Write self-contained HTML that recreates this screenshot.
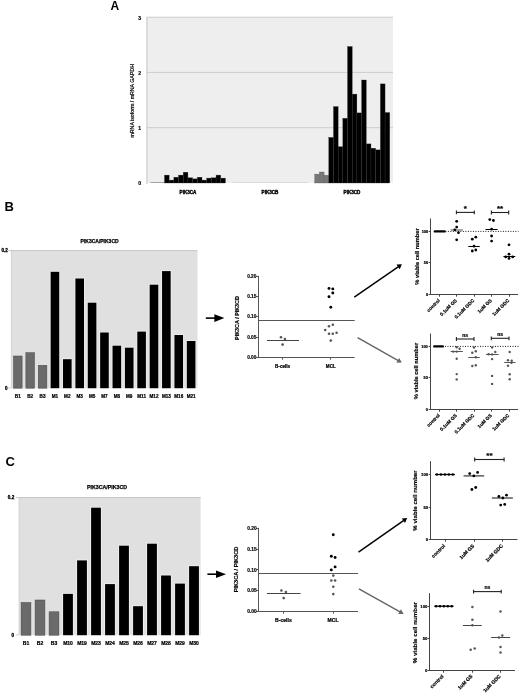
<!DOCTYPE html>
<html><head><meta charset="utf-8"><style>
html,body{margin:0;padding:0;background:#fff;width:520px;height:694px;overflow:hidden;}
svg{display:block;will-change:transform;font-family:"Liberation Sans",sans-serif;}
</style></head><body>
<svg width="520" height="694" viewBox="0 0 520 694" font-family="Liberation Sans, sans-serif">
<rect x="0" y="0" width="520" height="694" fill="#fff"/>
<text x="110.60" y="9.60" font-size="12" font-weight="bold" text-anchor="start" fill="#000" >A</text>
<rect x="147.00" y="17.00" width="246.00" height="166.00" fill="#eeeeee"/>
<line x1="147.00" y1="17.20" x2="393.00" y2="17.20" stroke="#c4c4c4" stroke-width="0.8" />
<line x1="147.00" y1="72.40" x2="393.00" y2="72.40" stroke="#c4c4c4" stroke-width="0.8" />
<line x1="147.00" y1="127.70" x2="393.00" y2="127.70" stroke="#c4c4c4" stroke-width="0.8" />
<line x1="146.90" y1="17.00" x2="146.90" y2="184.00" stroke="#c4c4c4" stroke-width="1" />
<text x="141.00" y="19.60" font-size="5.0" font-weight="bold" text-anchor="end" fill="#000" stroke="#000" stroke-width="0.18" >3</text>
<text x="141.00" y="74.80" font-size="5.0" font-weight="bold" text-anchor="end" fill="#000" stroke="#000" stroke-width="0.18" >2</text>
<text x="141.00" y="130.10" font-size="5.0" font-weight="bold" text-anchor="end" fill="#000" stroke="#000" stroke-width="0.18" >1</text>
<text x="141.00" y="185.40" font-size="5.0" font-weight="bold" text-anchor="end" fill="#000" stroke="#000" stroke-width="0.18" >0</text>
<text x="134.40" y="100.80" font-size="5.25" font-weight="normal" text-anchor="middle" fill="#000" stroke="#000" stroke-width="0.2" transform="rotate(-90 134.40 100.80)" >mRNA isoform / mRNA GAPDH</text>
<rect x="150.40" y="182.10" width="14.07" height="0.90" fill="#999"/>
<rect x="164.47" y="175.10" width="4.69" height="7.90" fill="#000000" stroke="#333" stroke-width="0.3"/>
<rect x="169.16" y="180.10" width="4.69" height="2.90" fill="#000000" stroke="#333" stroke-width="0.3"/>
<rect x="173.85" y="177.20" width="4.69" height="5.80" fill="#000000" stroke="#333" stroke-width="0.3"/>
<rect x="178.54" y="175.10" width="4.69" height="7.90" fill="#000000" stroke="#333" stroke-width="0.3"/>
<rect x="183.23" y="172.20" width="4.69" height="10.80" fill="#000000" stroke="#333" stroke-width="0.3"/>
<rect x="187.92" y="177.80" width="4.69" height="5.20" fill="#000000" stroke="#333" stroke-width="0.3"/>
<rect x="192.61" y="178.90" width="4.69" height="4.10" fill="#000000" stroke="#333" stroke-width="0.3"/>
<rect x="197.30" y="177.20" width="4.69" height="5.80" fill="#000000" stroke="#333" stroke-width="0.3"/>
<rect x="201.99" y="180.10" width="4.69" height="2.90" fill="#000000" stroke="#333" stroke-width="0.3"/>
<rect x="206.68" y="178.10" width="4.69" height="4.90" fill="#000000" stroke="#333" stroke-width="0.3"/>
<rect x="211.37" y="177.80" width="4.69" height="5.20" fill="#000000" stroke="#333" stroke-width="0.3"/>
<rect x="216.06" y="175.10" width="4.69" height="7.90" fill="#000000" stroke="#333" stroke-width="0.3"/>
<rect x="220.75" y="178.10" width="4.69" height="4.90" fill="#000000" stroke="#333" stroke-width="0.3"/>
<rect x="232.40" y="182.20" width="75.04" height="0.80" fill="#d4d4d4"/>
<rect x="314.70" y="174.10" width="4.69" height="8.90" fill="#777777" stroke="#555" stroke-width="0.3"/>
<rect x="319.39" y="172.00" width="4.69" height="11.00" fill="#777777" stroke="#555" stroke-width="0.3"/>
<rect x="324.08" y="175.20" width="4.69" height="7.80" fill="#777777" stroke="#555" stroke-width="0.3"/>
<rect x="328.77" y="137.40" width="4.69" height="45.60" fill="#000000" stroke="#333" stroke-width="0.3"/>
<rect x="333.46" y="106.60" width="4.69" height="76.40" fill="#000000" stroke="#333" stroke-width="0.3"/>
<rect x="338.15" y="146.70" width="4.69" height="36.30" fill="#000000" stroke="#333" stroke-width="0.3"/>
<rect x="342.84" y="118.30" width="4.69" height="64.70" fill="#000000" stroke="#333" stroke-width="0.3"/>
<rect x="347.53" y="46.50" width="4.69" height="136.50" fill="#000000" stroke="#333" stroke-width="0.3"/>
<rect x="352.22" y="94.10" width="4.69" height="88.90" fill="#000000" stroke="#333" stroke-width="0.3"/>
<rect x="356.91" y="112.90" width="4.69" height="70.10" fill="#000000" stroke="#333" stroke-width="0.3"/>
<rect x="361.60" y="80.00" width="4.69" height="103.00" fill="#000000" stroke="#333" stroke-width="0.3"/>
<rect x="366.29" y="143.90" width="4.69" height="39.10" fill="#000000" stroke="#333" stroke-width="0.3"/>
<rect x="370.98" y="148.20" width="4.69" height="34.80" fill="#000000" stroke="#333" stroke-width="0.3"/>
<rect x="375.67" y="149.90" width="4.69" height="33.10" fill="#000000" stroke="#333" stroke-width="0.3"/>
<rect x="380.36" y="83.90" width="4.69" height="99.10" fill="#000000" stroke="#333" stroke-width="0.3"/>
<rect x="385.05" y="112.50" width="4.69" height="70.50" fill="#000000" stroke="#333" stroke-width="0.3"/>
<text x="188.00" y="193.80" font-size="4.6" font-weight="bold" text-anchor="middle" fill="#000" stroke="#000" stroke-width="0.35" >PIK3CA</text>
<text x="270.00" y="193.80" font-size="4.6" font-weight="bold" text-anchor="middle" fill="#000" stroke="#000" stroke-width="0.35" >PIK3CB</text>
<text x="352.00" y="193.80" font-size="4.6" font-weight="bold" text-anchor="middle" fill="#000" stroke="#000" stroke-width="0.35" >PIK3CD</text>
<text x="4.60" y="211.40" font-size="13" font-weight="bold" text-anchor="start" fill="#000" >B</text>
<rect x="11.00" y="250.30" width="186.50" height="137.90" fill="#e0e0e0"/>
<line x1="11.00" y1="250.60" x2="197.50" y2="250.60" stroke="#b8b8b8" stroke-width="0.7" />
<line x1="11.30" y1="250.30" x2="11.30" y2="388.20" stroke="#c8c8c8" stroke-width="0.6" />
<rect x="49.64" y="270.80" width="10.60" height="117.40" fill="#ebebeb"/>
<rect x="62.02" y="358.20" width="10.60" height="30.00" fill="#ebebeb"/>
<rect x="74.40" y="277.50" width="10.60" height="110.70" fill="#ebebeb"/>
<rect x="86.78" y="301.70" width="10.60" height="86.50" fill="#ebebeb"/>
<rect x="99.16" y="331.50" width="10.60" height="56.70" fill="#ebebeb"/>
<rect x="111.54" y="344.70" width="10.60" height="43.50" fill="#ebebeb"/>
<rect x="123.92" y="346.70" width="10.60" height="41.50" fill="#ebebeb"/>
<rect x="136.30" y="330.60" width="10.60" height="57.60" fill="#ebebeb"/>
<rect x="148.68" y="283.70" width="10.60" height="104.50" fill="#ebebeb"/>
<rect x="161.06" y="270.10" width="10.60" height="118.10" fill="#ebebeb"/>
<rect x="173.44" y="334.00" width="10.60" height="54.20" fill="#ebebeb"/>
<rect x="185.82" y="340.00" width="10.60" height="48.20" fill="#ebebeb"/>
<rect x="13.50" y="356.00" width="8.60" height="32.20" fill="#6a6a6a" stroke="#444" stroke-width="0.5"/>
<text x="17.80" y="397.80" font-size="4.6" font-weight="bold" text-anchor="middle" fill="#000" stroke="#000" stroke-width="0.22" >B1</text>
<rect x="25.88" y="352.70" width="8.60" height="35.50" fill="#6a6a6a" stroke="#444" stroke-width="0.5"/>
<text x="30.18" y="397.80" font-size="4.6" font-weight="bold" text-anchor="middle" fill="#000" stroke="#000" stroke-width="0.22" >B2</text>
<rect x="38.26" y="365.30" width="8.60" height="22.90" fill="#6a6a6a" stroke="#444" stroke-width="0.5"/>
<text x="42.56" y="397.80" font-size="4.6" font-weight="bold" text-anchor="middle" fill="#000" stroke="#000" stroke-width="0.22" >B3</text>
<rect x="50.64" y="271.80" width="8.60" height="116.40" fill="#000"/>
<text x="54.94" y="397.80" font-size="4.6" font-weight="bold" text-anchor="middle" fill="#000" stroke="#000" stroke-width="0.22" >M1</text>
<rect x="63.02" y="359.20" width="8.60" height="29.00" fill="#000"/>
<text x="67.32" y="397.80" font-size="4.6" font-weight="bold" text-anchor="middle" fill="#000" stroke="#000" stroke-width="0.22" >M2</text>
<rect x="75.40" y="278.50" width="8.60" height="109.70" fill="#000"/>
<text x="79.70" y="397.80" font-size="4.6" font-weight="bold" text-anchor="middle" fill="#000" stroke="#000" stroke-width="0.22" >M3</text>
<rect x="87.78" y="302.70" width="8.60" height="85.50" fill="#000"/>
<text x="92.08" y="397.80" font-size="4.6" font-weight="bold" text-anchor="middle" fill="#000" stroke="#000" stroke-width="0.22" >M5</text>
<rect x="100.16" y="332.50" width="8.60" height="55.70" fill="#000"/>
<text x="104.46" y="397.80" font-size="4.6" font-weight="bold" text-anchor="middle" fill="#000" stroke="#000" stroke-width="0.22" >M7</text>
<rect x="112.54" y="345.70" width="8.60" height="42.50" fill="#000"/>
<text x="116.84" y="397.80" font-size="4.6" font-weight="bold" text-anchor="middle" fill="#000" stroke="#000" stroke-width="0.22" >M8</text>
<rect x="124.92" y="347.70" width="8.60" height="40.50" fill="#000"/>
<text x="129.22" y="397.80" font-size="4.6" font-weight="bold" text-anchor="middle" fill="#000" stroke="#000" stroke-width="0.22" >M9</text>
<rect x="137.30" y="331.60" width="8.60" height="56.60" fill="#000"/>
<text x="141.60" y="397.80" font-size="4.6" font-weight="bold" text-anchor="middle" fill="#000" stroke="#000" stroke-width="0.22" >M11</text>
<rect x="149.68" y="284.70" width="8.60" height="103.50" fill="#000"/>
<text x="153.98" y="397.80" font-size="4.6" font-weight="bold" text-anchor="middle" fill="#000" stroke="#000" stroke-width="0.22" >M12</text>
<rect x="162.06" y="271.10" width="8.60" height="117.10" fill="#000"/>
<text x="166.36" y="397.80" font-size="4.6" font-weight="bold" text-anchor="middle" fill="#000" stroke="#000" stroke-width="0.22" >M13</text>
<rect x="174.44" y="335.00" width="8.60" height="53.20" fill="#000"/>
<text x="178.74" y="397.80" font-size="4.6" font-weight="bold" text-anchor="middle" fill="#000" stroke="#000" stroke-width="0.22" >M16</text>
<rect x="186.82" y="341.00" width="8.60" height="47.20" fill="#000"/>
<text x="191.12" y="397.80" font-size="4.6" font-weight="bold" text-anchor="middle" fill="#000" stroke="#000" stroke-width="0.22" >M21</text>
<text x="99.60" y="243.30" font-size="5.0" font-weight="bold" text-anchor="middle" fill="#000" stroke="#000" stroke-width="0.25" >PIK3CA/PIK3CD</text>
<text x="7.90" y="251.80" font-size="4.6" font-weight="bold" text-anchor="end" fill="#000" stroke="#000" stroke-width="0.3" >0.2</text>
<text x="7.40" y="389.60" font-size="4.5" font-weight="bold" text-anchor="end" fill="#000" stroke="#000" stroke-width="0.3" >0</text>
<line x1="8.00" y1="250.60" x2="11.00" y2="250.60" stroke="#c0c0c0" stroke-width="0.8" />
<line x1="8.00" y1="387.90" x2="11.00" y2="387.90" stroke="#c8c8c8" stroke-width="0.8" />
<text x="5.60" y="465.80" font-size="13" font-weight="bold" text-anchor="start" fill="#000" >C</text>
<rect x="18.80" y="497.30" width="181.80" height="137.90" fill="#e0e0e0"/>
<line x1="18.80" y1="497.60" x2="200.60" y2="497.60" stroke="#b8b8b8" stroke-width="0.7" />
<line x1="19.10" y1="497.30" x2="19.10" y2="635.20" stroke="#c8c8c8" stroke-width="0.6" />
<rect x="62.10" y="592.90" width="11.80" height="42.30" fill="#ebebeb"/>
<rect x="76.10" y="559.40" width="11.80" height="75.80" fill="#ebebeb"/>
<rect x="90.10" y="506.70" width="11.80" height="128.50" fill="#ebebeb"/>
<rect x="104.10" y="583.10" width="11.80" height="52.10" fill="#ebebeb"/>
<rect x="118.10" y="544.70" width="11.80" height="90.50" fill="#ebebeb"/>
<rect x="132.10" y="605.20" width="11.80" height="30.00" fill="#ebebeb"/>
<rect x="146.10" y="542.70" width="11.80" height="92.50" fill="#ebebeb"/>
<rect x="160.10" y="574.50" width="11.80" height="60.70" fill="#ebebeb"/>
<rect x="174.10" y="582.60" width="11.80" height="52.60" fill="#ebebeb"/>
<rect x="188.10" y="565.20" width="11.80" height="70.00" fill="#ebebeb"/>
<rect x="21.10" y="602.50" width="9.80" height="32.70" fill="#6a6a6a" stroke="#444" stroke-width="0.5"/>
<text x="26.00" y="644.90" font-size="5.0" font-weight="bold" text-anchor="middle" fill="#000" stroke="#000" stroke-width="0.22" >B1</text>
<rect x="35.10" y="600.00" width="9.80" height="35.20" fill="#6a6a6a" stroke="#444" stroke-width="0.5"/>
<text x="40.00" y="644.90" font-size="5.0" font-weight="bold" text-anchor="middle" fill="#000" stroke="#000" stroke-width="0.22" >B2</text>
<rect x="49.10" y="611.80" width="9.80" height="23.40" fill="#6a6a6a" stroke="#444" stroke-width="0.5"/>
<text x="54.00" y="644.90" font-size="5.0" font-weight="bold" text-anchor="middle" fill="#000" stroke="#000" stroke-width="0.22" >B3</text>
<rect x="63.10" y="593.90" width="9.80" height="41.30" fill="#000"/>
<text x="68.00" y="644.90" font-size="5.0" font-weight="bold" text-anchor="middle" fill="#000" stroke="#000" stroke-width="0.22" >M10</text>
<rect x="77.10" y="560.40" width="9.80" height="74.80" fill="#000"/>
<text x="82.00" y="644.90" font-size="5.0" font-weight="bold" text-anchor="middle" fill="#000" stroke="#000" stroke-width="0.22" >M19</text>
<rect x="91.10" y="507.70" width="9.80" height="127.50" fill="#000"/>
<text x="96.00" y="644.90" font-size="5.0" font-weight="bold" text-anchor="middle" fill="#000" stroke="#000" stroke-width="0.22" >M23</text>
<rect x="105.10" y="584.10" width="9.80" height="51.10" fill="#000"/>
<text x="110.00" y="644.90" font-size="5.0" font-weight="bold" text-anchor="middle" fill="#000" stroke="#000" stroke-width="0.22" >M24</text>
<rect x="119.10" y="545.70" width="9.80" height="89.50" fill="#000"/>
<text x="124.00" y="644.90" font-size="5.0" font-weight="bold" text-anchor="middle" fill="#000" stroke="#000" stroke-width="0.22" >M25</text>
<rect x="133.10" y="606.20" width="9.80" height="29.00" fill="#000"/>
<text x="138.00" y="644.90" font-size="5.0" font-weight="bold" text-anchor="middle" fill="#000" stroke="#000" stroke-width="0.22" >M26</text>
<rect x="147.10" y="543.70" width="9.80" height="91.50" fill="#000"/>
<text x="152.00" y="644.90" font-size="5.0" font-weight="bold" text-anchor="middle" fill="#000" stroke="#000" stroke-width="0.22" >M27</text>
<rect x="161.10" y="575.50" width="9.80" height="59.70" fill="#000"/>
<text x="166.00" y="644.90" font-size="5.0" font-weight="bold" text-anchor="middle" fill="#000" stroke="#000" stroke-width="0.22" >M28</text>
<rect x="175.10" y="583.60" width="9.80" height="51.60" fill="#000"/>
<text x="180.00" y="644.90" font-size="5.0" font-weight="bold" text-anchor="middle" fill="#000" stroke="#000" stroke-width="0.22" >M29</text>
<rect x="189.10" y="566.20" width="9.80" height="69.00" fill="#000"/>
<text x="194.00" y="644.90" font-size="5.0" font-weight="bold" text-anchor="middle" fill="#000" stroke="#000" stroke-width="0.22" >M30</text>
<text x="107.10" y="489.20" font-size="5.25" font-weight="bold" text-anchor="middle" fill="#000" stroke="#000" stroke-width="0.25" >PIK3CA/PIK3CD</text>
<text x="14.20" y="498.80" font-size="4.6" font-weight="bold" text-anchor="end" fill="#000" stroke="#000" stroke-width="0.3" >0.2</text>
<text x="13.90" y="637.00" font-size="4.5" font-weight="bold" text-anchor="end" fill="#000" stroke="#000" stroke-width="0.3" >0</text>
<line x1="15.80" y1="497.60" x2="18.80" y2="497.60" stroke="#c0c0c0" stroke-width="0.8" />
<line x1="15.80" y1="634.90" x2="18.80" y2="634.90" stroke="#c8c8c8" stroke-width="0.8" />
<line x1="205.80" y1="318.10" x2="215.40" y2="318.10" stroke="#000" stroke-width="1.6" />
<polygon points="214.40,314.30 224.40,318.10 214.40,321.90" fill="#000"/>
<line x1="258.50" y1="275.80" x2="258.50" y2="358.00" stroke="#555" stroke-width="1" />
<line x1="258.00" y1="357.50" x2="354.70" y2="357.50" stroke="#555" stroke-width="1" />
<line x1="256.20" y1="276.50" x2="258.50" y2="276.50" stroke="#555" stroke-width="1" />
<text x="256.40" y="277.87" font-size="4.75" font-weight="bold" text-anchor="end" fill="#000" stroke="#000" stroke-width="0.15" >0.20</text>
<line x1="256.20" y1="296.50" x2="258.50" y2="296.50" stroke="#555" stroke-width="1" />
<text x="256.40" y="298.12" font-size="4.75" font-weight="bold" text-anchor="end" fill="#000" stroke="#000" stroke-width="0.15" >0.15</text>
<line x1="256.20" y1="316.50" x2="258.50" y2="316.50" stroke="#555" stroke-width="1" />
<text x="256.40" y="318.37" font-size="4.75" font-weight="bold" text-anchor="end" fill="#000" stroke="#000" stroke-width="0.15" >0.10</text>
<line x1="256.20" y1="337.50" x2="258.50" y2="337.50" stroke="#555" stroke-width="1" />
<text x="256.40" y="338.62" font-size="4.75" font-weight="bold" text-anchor="end" fill="#000" stroke="#000" stroke-width="0.15" >0.05</text>
<line x1="256.20" y1="357.50" x2="258.50" y2="357.50" stroke="#555" stroke-width="1" />
<text x="256.40" y="358.87" font-size="4.75" font-weight="bold" text-anchor="end" fill="#000" stroke="#000" stroke-width="0.15" >0.00</text>
<line x1="282.50" y1="357.50" x2="282.50" y2="359.70" stroke="#555" stroke-width="1" />
<line x1="330.50" y1="357.50" x2="330.50" y2="359.70" stroke="#555" stroke-width="1" />
<line x1="258.50" y1="320.50" x2="354.70" y2="320.50" stroke="#555" stroke-width="1" />
<line x1="267.00" y1="340.50" x2="299.00" y2="340.50" stroke="#444" stroke-width="1" />
<circle cx="281.00" cy="337.30" r="1.3" fill="#555"/>
<circle cx="284.90" cy="339.00" r="1.3" fill="#555"/>
<circle cx="282.60" cy="344.60" r="1.3" fill="#555"/>
<circle cx="329.00" cy="288.40" r="1.45" fill="#000"/>
<circle cx="332.80" cy="288.90" r="1.45" fill="#000"/>
<circle cx="332.80" cy="293.00" r="1.45" fill="#000"/>
<circle cx="329.00" cy="296.80" r="1.45" fill="#000"/>
<circle cx="330.80" cy="307.30" r="1.45" fill="#000"/>
<circle cx="329.00" cy="326.20" r="1.3" fill="#555"/>
<circle cx="332.80" cy="324.70" r="1.3" fill="#555"/>
<circle cx="325.20" cy="330.00" r="1.3" fill="#555"/>
<circle cx="329.00" cy="333.80" r="1.3" fill="#555"/>
<circle cx="332.80" cy="333.80" r="1.3" fill="#555"/>
<circle cx="336.60" cy="332.70" r="1.3" fill="#555"/>
<circle cx="330.80" cy="340.60" r="1.3" fill="#555"/>
<text x="238.60" y="318.00" font-size="5.4" font-weight="bold" text-anchor="middle" fill="#000" stroke="#000" stroke-width="0.18" transform="rotate(-90 238.60 318.00)" >PIK3CA / PIK3CD</text>
<text x="282.60" y="367.50" font-size="4.6" font-weight="bold" text-anchor="middle" fill="#000" stroke="#000" stroke-width="0.22" >B-cells</text>
<text x="330.80" y="367.50" font-size="4.6" font-weight="bold" text-anchor="middle" fill="#000" stroke="#000" stroke-width="0.22" >MCL</text>
<line x1="207.40" y1="574.20" x2="217.00" y2="574.20" stroke="#000" stroke-width="1.6" />
<polygon points="216.00,570.40 226.00,574.20 216.00,578.00" fill="#000"/>
<line x1="258.50" y1="527.80" x2="258.50" y2="612.00" stroke="#555" stroke-width="1" />
<line x1="258.00" y1="611.50" x2="358.00" y2="611.50" stroke="#555" stroke-width="1" />
<line x1="256.20" y1="528.50" x2="258.50" y2="528.50" stroke="#555" stroke-width="1" />
<text x="256.70" y="529.90" font-size="4.85" font-weight="bold" text-anchor="end" fill="#000" stroke="#000" stroke-width="0.15" >0.20</text>
<line x1="256.20" y1="549.50" x2="258.50" y2="549.50" stroke="#555" stroke-width="1" />
<text x="256.70" y="550.70" font-size="4.85" font-weight="bold" text-anchor="end" fill="#000" stroke="#000" stroke-width="0.15" >0.15</text>
<line x1="256.20" y1="569.50" x2="258.50" y2="569.50" stroke="#555" stroke-width="1" />
<text x="256.70" y="571.50" font-size="4.85" font-weight="bold" text-anchor="end" fill="#000" stroke="#000" stroke-width="0.15" >0.10</text>
<line x1="256.20" y1="590.50" x2="258.50" y2="590.50" stroke="#555" stroke-width="1" />
<text x="256.70" y="592.30" font-size="4.85" font-weight="bold" text-anchor="end" fill="#000" stroke="#000" stroke-width="0.15" >0.05</text>
<line x1="256.20" y1="611.50" x2="258.50" y2="611.50" stroke="#555" stroke-width="1" />
<text x="256.70" y="613.10" font-size="4.85" font-weight="bold" text-anchor="end" fill="#000" stroke="#000" stroke-width="0.15" >0.00</text>
<line x1="283.50" y1="611.50" x2="283.50" y2="613.70" stroke="#555" stroke-width="1" />
<line x1="333.50" y1="611.50" x2="333.50" y2="613.70" stroke="#555" stroke-width="1" />
<line x1="258.50" y1="573.50" x2="358.00" y2="573.50" stroke="#555" stroke-width="1" />
<line x1="267.00" y1="593.50" x2="300.60" y2="593.50" stroke="#444" stroke-width="1" />
<circle cx="281.40" cy="590.50" r="1.3" fill="#555"/>
<circle cx="285.90" cy="592.00" r="1.3" fill="#555"/>
<circle cx="283.70" cy="598.10" r="1.3" fill="#555"/>
<circle cx="333.30" cy="534.80" r="1.45" fill="#000"/>
<circle cx="331.30" cy="556.30" r="1.45" fill="#000"/>
<circle cx="335.10" cy="557.50" r="1.45" fill="#000"/>
<circle cx="335.10" cy="566.90" r="1.45" fill="#000"/>
<circle cx="331.30" cy="569.90" r="1.45" fill="#000"/>
<circle cx="333.30" cy="575.60" r="1.3" fill="#555"/>
<circle cx="331.30" cy="580.50" r="1.3" fill="#555"/>
<circle cx="335.10" cy="580.50" r="1.3" fill="#555"/>
<circle cx="333.30" cy="586.80" r="1.3" fill="#555"/>
<circle cx="333.30" cy="594.10" r="1.3" fill="#555"/>
<text x="238.40" y="569.50" font-size="5.6" font-weight="bold" text-anchor="middle" fill="#000" stroke="#000" stroke-width="0.18" transform="rotate(-90 238.40 569.50)" >PIK3CA / PIK3CD</text>
<text x="283.40" y="622.00" font-size="5.1" font-weight="bold" text-anchor="middle" fill="#000" stroke="#000" stroke-width="0.22" >B-cells</text>
<text x="333.00" y="622.00" font-size="5.1" font-weight="bold" text-anchor="middle" fill="#000" stroke="#000" stroke-width="0.22" >MCL</text>
<line x1="354.30" y1="297.10" x2="398.52" y2="266.63" stroke="#000" stroke-width="1.45" />
<polygon points="401.90,264.30 399.70,269.22 396.52,264.60" fill="#000"/>
<line x1="357.60" y1="337.70" x2="398.23" y2="360.59" stroke="#666" stroke-width="1.45" />
<polygon points="401.80,362.60 396.42,362.78 399.17,357.90" fill="#666"/>
<line x1="358.50" y1="552.10" x2="403.84" y2="520.45" stroke="#000" stroke-width="1.45" />
<polygon points="407.20,518.10 405.03,523.03 401.83,518.44" fill="#000"/>
<line x1="358.90" y1="588.80" x2="400.03" y2="611.89" stroke="#666" stroke-width="1.45" />
<polygon points="403.60,613.90 398.22,614.09 400.96,609.21" fill="#666"/>
<line x1="430.50" y1="218.50" x2="430.50" y2="295.00" stroke="#444" stroke-width="1" />
<line x1="430.00" y1="294.50" x2="518.00" y2="294.50" stroke="#444" stroke-width="1" />
<line x1="428.70" y1="231.50" x2="430.50" y2="231.50" stroke="#444" stroke-width="1" />
<text x="428.20" y="232.80" font-size="3.9" font-weight="bold" text-anchor="end" fill="#000" stroke="#000" stroke-width="0.2" >100</text>
<line x1="428.70" y1="262.50" x2="430.50" y2="262.50" stroke="#444" stroke-width="1" />
<text x="428.20" y="264.25" font-size="3.9" font-weight="bold" text-anchor="end" fill="#000" stroke="#000" stroke-width="0.2" >50</text>
<line x1="428.70" y1="294.50" x2="430.50" y2="294.50" stroke="#444" stroke-width="1" />
<text x="428.20" y="295.70" font-size="3.9" font-weight="bold" text-anchor="end" fill="#000" stroke="#000" stroke-width="0.2" >0</text>
<line x1="439.50" y1="294.50" x2="439.50" y2="296.70" stroke="#444" stroke-width="1" />
<line x1="456.50" y1="294.50" x2="456.50" y2="296.70" stroke="#444" stroke-width="1" />
<line x1="474.50" y1="294.50" x2="474.50" y2="296.70" stroke="#444" stroke-width="1" />
<line x1="491.50" y1="294.50" x2="491.50" y2="296.70" stroke="#444" stroke-width="1" />
<line x1="509.50" y1="294.50" x2="509.50" y2="296.70" stroke="#444" stroke-width="1" />
<text x="440.20" y="300.90" font-size="4.8" font-weight="bold" text-anchor="end" fill="#000" stroke="#000" stroke-width="0.18" transform="rotate(-45 440.20 300.90)" >control</text>
<text x="457.30" y="300.90" font-size="4.8" font-weight="bold" text-anchor="end" fill="#000" stroke="#000" stroke-width="0.18" transform="rotate(-45 457.30 300.90)" >0.1uM GS</text>
<text x="474.60" y="300.90" font-size="4.8" font-weight="bold" text-anchor="end" fill="#000" stroke="#000" stroke-width="0.18" transform="rotate(-45 474.60 300.90)" >0.1uM GDC</text>
<text x="492.20" y="300.90" font-size="4.8" font-weight="bold" text-anchor="end" fill="#000" stroke="#000" stroke-width="0.18" transform="rotate(-45 492.20 300.90)" >1uM GS</text>
<text x="509.60" y="300.90" font-size="4.8" font-weight="bold" text-anchor="end" fill="#000" stroke="#000" stroke-width="0.18" transform="rotate(-45 509.60 300.90)" >1uM GDC</text>
<line x1="445.40" y1="231.40" x2="518.50" y2="231.40" stroke="#000" stroke-width="0.9" stroke-dasharray="1 1.5"/>
<line x1="434.90" y1="231.40" x2="444.60" y2="231.40" stroke="#000" stroke-width="2.4" stroke-linecap="round"/>
<line x1="450.60" y1="230.00" x2="462.80" y2="230.00" stroke="#888" stroke-width="1.5" />
<circle cx="456.70" cy="221.30" r="1.4" fill="#000"/>
<circle cx="456.70" cy="227.10" r="1.4" fill="#000"/>
<circle cx="454.80" cy="229.80" r="1.4" fill="#000"/>
<circle cx="458.50" cy="232.70" r="1.4" fill="#000"/>
<circle cx="456.70" cy="239.80" r="1.4" fill="#000"/>
<line x1="468.30" y1="246.50" x2="479.80" y2="246.50" stroke="#000" stroke-width="1" />
<circle cx="472.30" cy="239.20" r="1.4" fill="#000"/>
<circle cx="475.80" cy="237.20" r="1.4" fill="#000"/>
<circle cx="474.00" cy="246.20" r="1.4" fill="#000"/>
<circle cx="472.30" cy="251.00" r="1.4" fill="#000"/>
<circle cx="475.80" cy="250.00" r="1.4" fill="#000"/>
<line x1="485.50" y1="229.50" x2="497.60" y2="229.50" stroke="#000" stroke-width="1" />
<circle cx="489.80" cy="219.60" r="1.4" fill="#000"/>
<circle cx="493.40" cy="220.50" r="1.4" fill="#000"/>
<circle cx="491.60" cy="229.20" r="1.4" fill="#000"/>
<circle cx="491.60" cy="236.00" r="1.4" fill="#000"/>
<circle cx="491.60" cy="241.10" r="1.4" fill="#000"/>
<line x1="503.40" y1="256.50" x2="515.30" y2="256.50" stroke="#000" stroke-width="1" />
<circle cx="509.00" cy="244.80" r="1.4" fill="#000"/>
<circle cx="509.00" cy="254.20" r="1.4" fill="#000"/>
<circle cx="505.70" cy="256.90" r="1.4" fill="#000"/>
<circle cx="512.70" cy="256.90" r="1.4" fill="#000"/>
<circle cx="509.00" cy="258.40" r="1.4" fill="#000"/>
<line x1="456.40" y1="212.40" x2="474.30" y2="212.40" stroke="#222" stroke-width="1.1" />
<line x1="456.40" y1="210.50" x2="456.40" y2="214.30" stroke="#222" stroke-width="1.1" />
<line x1="474.30" y1="210.50" x2="474.30" y2="214.30" stroke="#222" stroke-width="1.1" />
<text x="465.35" y="210.60" font-size="8.0" font-weight="bold" text-anchor="middle" fill="#000" stroke="#000" stroke-width="0.2" >*</text>
<line x1="491.40" y1="212.50" x2="508.70" y2="212.50" stroke="#222" stroke-width="1.1" />
<line x1="491.40" y1="210.60" x2="491.40" y2="214.40" stroke="#222" stroke-width="1.1" />
<line x1="508.70" y1="210.60" x2="508.70" y2="214.40" stroke="#222" stroke-width="1.1" />
<text x="500.05" y="210.70" font-size="8.0" font-weight="bold" text-anchor="middle" fill="#000" stroke="#000" stroke-width="0.2" >**</text>
<text x="418.80" y="256.50" font-size="5.7" font-weight="bold" text-anchor="middle" fill="#000" stroke="#000" stroke-width="0.18" transform="rotate(-90 418.80 256.50)" >% viable cell number</text>
<line x1="430.50" y1="333.50" x2="430.50" y2="410.00" stroke="#444" stroke-width="1" />
<line x1="430.00" y1="409.50" x2="518.00" y2="409.50" stroke="#444" stroke-width="1" />
<line x1="428.70" y1="346.50" x2="430.50" y2="346.50" stroke="#444" stroke-width="1" />
<text x="427.80" y="347.80" font-size="3.9" font-weight="bold" text-anchor="end" fill="#000" stroke="#000" stroke-width="0.2" >100</text>
<line x1="428.70" y1="377.50" x2="430.50" y2="377.50" stroke="#444" stroke-width="1" />
<text x="427.80" y="379.20" font-size="3.9" font-weight="bold" text-anchor="end" fill="#000" stroke="#000" stroke-width="0.2" >50</text>
<line x1="428.70" y1="409.50" x2="430.50" y2="409.50" stroke="#444" stroke-width="1" />
<text x="427.80" y="410.60" font-size="3.9" font-weight="bold" text-anchor="end" fill="#000" stroke="#000" stroke-width="0.2" >0</text>
<line x1="439.50" y1="409.50" x2="439.50" y2="411.70" stroke="#444" stroke-width="1" />
<line x1="456.50" y1="409.50" x2="456.50" y2="411.70" stroke="#444" stroke-width="1" />
<line x1="474.50" y1="409.50" x2="474.50" y2="411.70" stroke="#444" stroke-width="1" />
<line x1="491.50" y1="409.50" x2="491.50" y2="411.70" stroke="#444" stroke-width="1" />
<line x1="509.50" y1="409.50" x2="509.50" y2="411.70" stroke="#444" stroke-width="1" />
<text x="440.20" y="415.80" font-size="4.8" font-weight="bold" text-anchor="end" fill="#000" stroke="#000" stroke-width="0.18" transform="rotate(-45 440.20 415.80)" >control</text>
<text x="457.30" y="415.80" font-size="4.8" font-weight="bold" text-anchor="end" fill="#000" stroke="#000" stroke-width="0.18" transform="rotate(-45 457.30 415.80)" >0.1uM GS</text>
<text x="474.60" y="415.80" font-size="4.8" font-weight="bold" text-anchor="end" fill="#000" stroke="#000" stroke-width="0.18" transform="rotate(-45 474.60 415.80)" >0.1uM GDC</text>
<text x="492.20" y="415.80" font-size="4.8" font-weight="bold" text-anchor="end" fill="#000" stroke="#000" stroke-width="0.18" transform="rotate(-45 492.20 415.80)" >1uM GS</text>
<text x="509.60" y="415.80" font-size="4.8" font-weight="bold" text-anchor="end" fill="#000" stroke="#000" stroke-width="0.18" transform="rotate(-45 509.60 415.80)" >1uM GDC</text>
<line x1="445.00" y1="346.40" x2="518.50" y2="346.40" stroke="#000" stroke-width="0.9" stroke-dasharray="1 1.5"/>
<line x1="434.30" y1="346.40" x2="442.80" y2="346.40" stroke="#000" stroke-width="2.4" stroke-linecap="round"/>
<line x1="450.60" y1="351.50" x2="462.80" y2="351.50" stroke="#555" stroke-width="1" />
<circle cx="456.70" cy="347.30" r="1.2" fill="#555"/>
<circle cx="459.60" cy="348.80" r="1.2" fill="#555"/>
<circle cx="453.30" cy="351.60" r="1.2" fill="#555"/>
<circle cx="456.70" cy="351.60" r="1.2" fill="#555"/>
<circle cx="456.70" cy="358.80" r="1.2" fill="#555"/>
<circle cx="456.70" cy="374.10" r="1.2" fill="#555"/>
<circle cx="456.70" cy="379.40" r="1.2" fill="#555"/>
<line x1="468.30" y1="357.50" x2="479.80" y2="357.50" stroke="#555" stroke-width="1" />
<circle cx="474.00" cy="347.50" r="1.2" fill="#555"/>
<circle cx="475.80" cy="351.30" r="1.2" fill="#555"/>
<circle cx="472.30" cy="352.80" r="1.2" fill="#555"/>
<circle cx="475.80" cy="357.20" r="1.2" fill="#555"/>
<circle cx="472.30" cy="366.00" r="1.2" fill="#555"/>
<circle cx="475.80" cy="365.20" r="1.2" fill="#555"/>
<line x1="486.00" y1="354.50" x2="498.60" y2="354.50" stroke="#555" stroke-width="1" />
<circle cx="492.10" cy="347.40" r="1.2" fill="#555"/>
<circle cx="495.30" cy="352.00" r="1.2" fill="#555"/>
<circle cx="488.60" cy="354.20" r="1.2" fill="#555"/>
<circle cx="492.10" cy="354.40" r="1.2" fill="#555"/>
<circle cx="492.10" cy="359.10" r="1.2" fill="#555"/>
<circle cx="492.10" cy="375.90" r="1.2" fill="#555"/>
<circle cx="492.10" cy="383.90" r="1.2" fill="#555"/>
<line x1="504.20" y1="362.50" x2="515.50" y2="362.50" stroke="#555" stroke-width="1" />
<circle cx="509.70" cy="352.00" r="1.2" fill="#555"/>
<circle cx="508.00" cy="360.30" r="1.2" fill="#555"/>
<circle cx="511.70" cy="360.80" r="1.2" fill="#555"/>
<circle cx="511.40" cy="362.80" r="1.2" fill="#555"/>
<circle cx="508.00" cy="365.80" r="1.2" fill="#555"/>
<circle cx="509.70" cy="374.20" r="1.2" fill="#555"/>
<circle cx="509.70" cy="379.20" r="1.2" fill="#555"/>
<line x1="456.40" y1="339.00" x2="474.00" y2="339.00" stroke="#222" stroke-width="1.1" />
<line x1="456.40" y1="337.10" x2="456.40" y2="340.90" stroke="#222" stroke-width="1.1" />
<line x1="474.00" y1="337.10" x2="474.00" y2="340.90" stroke="#222" stroke-width="1.1" />
<text x="465.20" y="336.60" font-size="5.0" font-weight="bold" text-anchor="middle" fill="#000" stroke="#000" stroke-width="0.2" >ns</text>
<line x1="491.30" y1="338.30" x2="509.00" y2="338.30" stroke="#222" stroke-width="1.1" />
<line x1="491.30" y1="336.40" x2="491.30" y2="340.20" stroke="#222" stroke-width="1.1" />
<line x1="509.00" y1="336.40" x2="509.00" y2="340.20" stroke="#222" stroke-width="1.1" />
<text x="500.15" y="335.90" font-size="5.0" font-weight="bold" text-anchor="middle" fill="#000" stroke="#000" stroke-width="0.2" >ns</text>
<text x="418.40" y="371.00" font-size="5.7" font-weight="bold" text-anchor="middle" fill="#000" stroke="#000" stroke-width="0.18" transform="rotate(-90 418.40 371.00)" >% viable cell number</text>
<line x1="430.50" y1="461.10" x2="430.50" y2="540.00" stroke="#444" stroke-width="1" />
<line x1="430.00" y1="539.50" x2="517.40" y2="539.50" stroke="#444" stroke-width="1" />
<line x1="428.70" y1="474.50" x2="430.50" y2="474.50" stroke="#444" stroke-width="1" />
<text x="428.10" y="475.81" font-size="4.2" font-weight="bold" text-anchor="end" fill="#000" stroke="#000" stroke-width="0.2" >100</text>
<line x1="428.70" y1="507.50" x2="430.50" y2="507.50" stroke="#444" stroke-width="1" />
<text x="428.10" y="508.51" font-size="4.2" font-weight="bold" text-anchor="end" fill="#000" stroke="#000" stroke-width="0.2" >50</text>
<line x1="428.70" y1="539.50" x2="430.50" y2="539.50" stroke="#444" stroke-width="1" />
<text x="428.10" y="541.21" font-size="4.2" font-weight="bold" text-anchor="end" fill="#000" stroke="#000" stroke-width="0.2" >0</text>
<line x1="445.50" y1="539.50" x2="445.50" y2="541.70" stroke="#444" stroke-width="1" />
<line x1="474.50" y1="539.50" x2="474.50" y2="541.70" stroke="#444" stroke-width="1" />
<line x1="502.50" y1="539.50" x2="502.50" y2="541.70" stroke="#444" stroke-width="1" />
<text x="445.60" y="546.30" font-size="5.0" font-weight="bold" text-anchor="end" fill="#000" stroke="#000" stroke-width="0.18" transform="rotate(-45 445.60 546.30)" >control</text>
<text x="474.60" y="546.30" font-size="5.0" font-weight="bold" text-anchor="end" fill="#000" stroke="#000" stroke-width="0.18" transform="rotate(-45 474.60 546.30)" >1uM GS</text>
<text x="503.30" y="546.30" font-size="5.0" font-weight="bold" text-anchor="end" fill="#000" stroke="#000" stroke-width="0.18" transform="rotate(-45 503.30 546.30)" >1uM GDC</text>
<line x1="435.00" y1="474.50" x2="455.00" y2="474.50" stroke="#000" stroke-width="1.2" />
<circle cx="436.90" cy="474.50" r="1.3" fill="#000"/>
<circle cx="440.90" cy="474.50" r="1.3" fill="#000"/>
<circle cx="444.90" cy="474.50" r="1.3" fill="#000"/>
<circle cx="448.85" cy="474.50" r="1.3" fill="#000"/>
<circle cx="452.80" cy="474.50" r="1.3" fill="#000"/>
<line x1="463.60" y1="475.90" x2="484.20" y2="475.90" stroke="#333" stroke-width="1.2" />
<circle cx="469.70" cy="473.60" r="1.4" fill="#000"/>
<circle cx="473.80" cy="475.90" r="1.4" fill="#000"/>
<circle cx="477.60" cy="472.40" r="1.4" fill="#000"/>
<circle cx="471.90" cy="489.50" r="1.4" fill="#000"/>
<circle cx="475.70" cy="487.50" r="1.4" fill="#000"/>
<line x1="491.90" y1="498.00" x2="512.90" y2="498.00" stroke="#333" stroke-width="1.2" />
<circle cx="498.90" cy="496.50" r="1.4" fill="#000"/>
<circle cx="502.80" cy="498.00" r="1.4" fill="#000"/>
<circle cx="506.50" cy="495.20" r="1.4" fill="#000"/>
<circle cx="500.70" cy="505.10" r="1.4" fill="#000"/>
<circle cx="504.70" cy="504.40" r="1.4" fill="#000"/>
<line x1="474.70" y1="459.50" x2="504.10" y2="459.50" stroke="#222" stroke-width="1.1" />
<line x1="474.70" y1="457.60" x2="474.70" y2="461.40" stroke="#222" stroke-width="1.1" />
<line x1="504.10" y1="457.60" x2="504.10" y2="461.40" stroke="#222" stroke-width="1.1" />
<text x="489.40" y="457.70" font-size="8.0" font-weight="bold" text-anchor="middle" fill="#000" stroke="#000" stroke-width="0.2" >**</text>
<text x="416.50" y="500.50" font-size="6.1" font-weight="bold" text-anchor="middle" fill="#000" stroke="#000" stroke-width="0.18" transform="rotate(-90 416.50 500.50)" >% viable cell number</text>
<line x1="429.50" y1="593.10" x2="429.50" y2="671.00" stroke="#444" stroke-width="1" />
<line x1="429.00" y1="670.50" x2="515.00" y2="670.50" stroke="#444" stroke-width="1" />
<line x1="427.70" y1="606.50" x2="429.50" y2="606.50" stroke="#444" stroke-width="1" />
<text x="427.30" y="607.91" font-size="4.2" font-weight="bold" text-anchor="end" fill="#000" stroke="#000" stroke-width="0.2" >100</text>
<line x1="427.70" y1="638.50" x2="429.50" y2="638.50" stroke="#444" stroke-width="1" />
<text x="427.30" y="639.76" font-size="4.2" font-weight="bold" text-anchor="end" fill="#000" stroke="#000" stroke-width="0.2" >50</text>
<line x1="427.70" y1="670.50" x2="429.50" y2="670.50" stroke="#444" stroke-width="1" />
<text x="427.30" y="671.61" font-size="4.2" font-weight="bold" text-anchor="end" fill="#000" stroke="#000" stroke-width="0.2" >0</text>
<line x1="443.50" y1="670.50" x2="443.50" y2="672.70" stroke="#444" stroke-width="1" />
<line x1="472.50" y1="670.50" x2="472.50" y2="672.70" stroke="#444" stroke-width="1" />
<line x1="500.50" y1="670.50" x2="500.50" y2="672.70" stroke="#444" stroke-width="1" />
<text x="444.10" y="676.70" font-size="5.0" font-weight="bold" text-anchor="end" fill="#000" stroke="#000" stroke-width="0.18" transform="rotate(-45 444.10 676.70)" >control</text>
<text x="473.00" y="676.70" font-size="5.0" font-weight="bold" text-anchor="end" fill="#000" stroke="#000" stroke-width="0.18" transform="rotate(-45 473.00 676.70)" >1uM GS</text>
<text x="501.10" y="676.70" font-size="5.0" font-weight="bold" text-anchor="end" fill="#000" stroke="#000" stroke-width="0.18" transform="rotate(-45 501.10 676.70)" >1uM GDC</text>
<line x1="434.20" y1="606.20" x2="453.60" y2="606.20" stroke="#000" stroke-width="1.2" />
<circle cx="436.10" cy="606.20" r="1.3" fill="#000"/>
<circle cx="440.00" cy="606.20" r="1.3" fill="#000"/>
<circle cx="443.90" cy="606.20" r="1.3" fill="#000"/>
<circle cx="447.80" cy="606.20" r="1.3" fill="#000"/>
<circle cx="451.70" cy="606.20" r="1.3" fill="#000"/>
<line x1="462.90" y1="625.50" x2="481.70" y2="625.50" stroke="#444" stroke-width="1" />
<circle cx="472.40" cy="607.10" r="1.25" fill="#555"/>
<circle cx="472.40" cy="619.70" r="1.25" fill="#555"/>
<circle cx="472.40" cy="625.30" r="1.25" fill="#555"/>
<circle cx="470.70" cy="649.70" r="1.25" fill="#555"/>
<circle cx="474.70" cy="648.40" r="1.25" fill="#555"/>
<line x1="491.20" y1="637.50" x2="510.00" y2="637.50" stroke="#444" stroke-width="1" />
<circle cx="500.50" cy="611.50" r="1.25" fill="#555"/>
<circle cx="502.30" cy="635.40" r="1.25" fill="#555"/>
<circle cx="499.00" cy="637.60" r="1.25" fill="#555"/>
<circle cx="500.50" cy="646.90" r="1.25" fill="#555"/>
<circle cx="500.50" cy="652.40" r="1.25" fill="#555"/>
<line x1="473.60" y1="591.60" x2="501.20" y2="591.60" stroke="#222" stroke-width="1.1" />
<line x1="473.60" y1="589.70" x2="473.60" y2="593.50" stroke="#222" stroke-width="1.1" />
<line x1="501.20" y1="589.70" x2="501.20" y2="593.50" stroke="#222" stroke-width="1.1" />
<text x="487.40" y="589.20" font-size="5.0" font-weight="bold" text-anchor="middle" fill="#000" stroke="#000" stroke-width="0.2" >ns</text>
<text x="416.90" y="632.60" font-size="6.2" font-weight="bold" text-anchor="middle" fill="#000" stroke="#000" stroke-width="0.18" transform="rotate(-90 416.90 632.60)" >% viable cell number</text>
</svg>
</body></html>
